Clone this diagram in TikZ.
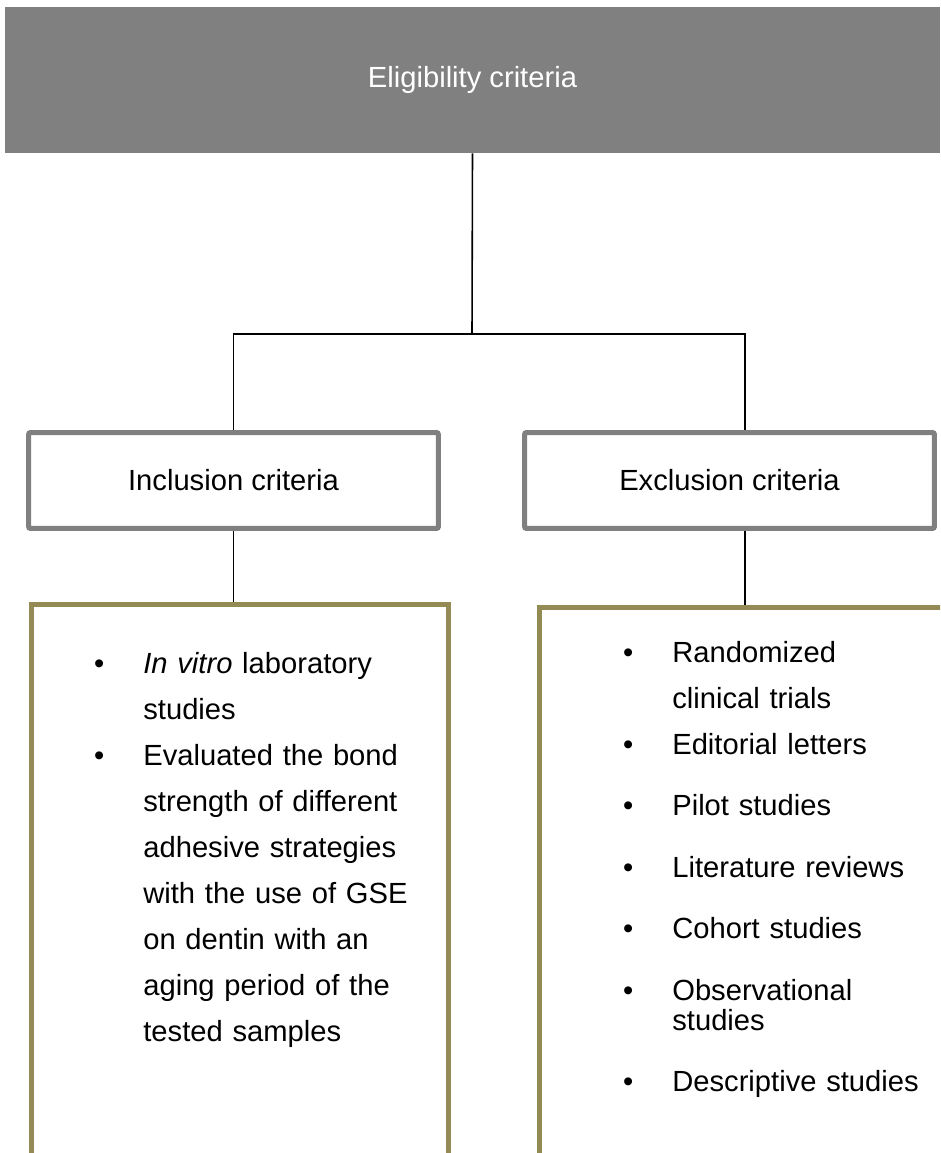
\documentclass[tikz,border=0pt]{standalone}
\usepackage{fontspec}
\setmainfont{Liberation Sans}
\usetikzlibrary{positioning}
\definecolor{critgray}{HTML}{808080}
\definecolor{listolive}{HTML}{948A54}
\newcommand{\critfont}{\fontsize{16.6}{26.2}\selectfont}
\newcommand{\bul}{\leavevmode\llap{\textbullet\hspace{0.78cm}}}

\begin{document}
\begin{tikzpicture}[x=0.02cm, y=-0.02cm,
    crit/.style={draw=critgray, line width=0.1cm, rounded corners=0.4mm, fill=white, minimum width=8.2cm, minimum height=1.92cm, font=\critfont},
    listbox/.style={draw=listolive, line width=0.1cm, minimum width=8.34cm, minimum height=12cm, anchor=north west},
    listtext/.style={anchor=base west, text width=7cm, align=left, inner sep=0pt, font=\critfont},
    link/.style={line width=0.9pt}]
    \useasboundingbox (0,0) rectangle (940,1153);
    \clip (0,0) rectangle (940,1153);
    \node[fill=critgray, minimum width=18.7cm, minimum height=2.92cm, text=white, font=\critfont] (elig) at (472.5,80) {Eligibility criteria};
    \node[crit] (incl) at (233.5,480.5) {Inclusion criteria};
    \node[crit] (excl) at (729.5,480.5) {Exclusion criteria};
    \node[listbox] (inclist) at (29,602) {};
    \node[listbox] (exclist) at (537,605) {};
    % connectors
    \coordinate (split) at (472,334);
    \draw[link] (elig.south) -- (split);
    \draw[link] (incl.north) |- (split) -| ([xshift=0.31cm]excl.north);
    \draw[link] (incl.south) -- (incl.south |- inclist.north);
    \draw[link] ([xshift=0.31cm]excl.south) -- ([xshift=0.31cm]excl.south |- exclist.north);
    % lists
    \node[listtext] (inctext) at (143,673) {\bul\textit{In vitro} laboratory\\ studies\\ \bul Evaluated the bond\\ strength of different\\ adhesive strategies\\ with the use of GSE\\ on dentin with an\\ aging period of the\\ tested samples};
    \node[listtext] (exctext) at (672,662) {\bul Randomized\\ clinical trials\\ \bul Editorial letters\\[0.31cm] \bul Pilot studies\\[0.31cm] \bul Literature reviews\\[0.31cm] \bul Cohort studies\\[0.31cm] \bul Observational\\[-0.32cm] studies\\[0.31cm] \bul Descriptive studies};
\end{tikzpicture}
\end{document}
